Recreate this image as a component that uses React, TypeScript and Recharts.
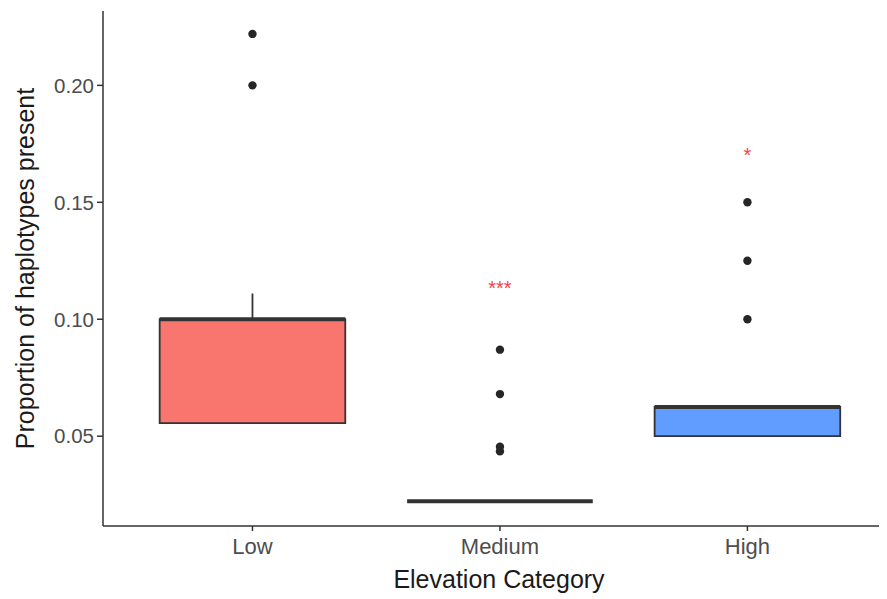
import React from 'react';
import {
  ComposedChart,
  XAxis,
  YAxis,
  Scatter,
  ReferenceArea,
  ReferenceLine,
} from 'recharts';

const categories = ['Low', 'Medium', 'High'];
const positions = [1, 2, 3];
const q1 = [0.0556, 0.0222, 0.05];
const median = [0.1, 0.0222, 0.0625];
const q3 = [0.1, 0.0222, 0.0625];
const whiskerLow = [0.0556, 0.0222, 0.05];
const whiskerHigh = [0.111, 0.0222, 0.0625];
const fills = ['#F8766D', '#00BA38', '#619CFF'];

const outliersLow = [0.222, 0.2];
const outliersMedium = [0.087, 0.068, 0.0455, 0.0435];
const outliersHigh = [0.15, 0.125, 0.1];

const starLabels = ['***', '*'];
const starPositions = [2, 3];
const starValues = [0.114, 0.171];

const yTicks = [0.05, 0.1, 0.15, 0.2];
const yDomain = [0.0116, 0.2318];
const xDomain = [0.396, 3.564];
const boxHalf = 0.375;

const outlierData = [
  ...outliersLow.map((y) => ({ x: 1, y })),
  ...outliersMedium.map((y) => ({ x: 2, y })),
  ...outliersHigh.map((y) => ({ x: 3, y })),
];
const starData = starLabels.map((label, i) => ({ x: starPositions[i], y: starValues[i], label }));

const FONT = '"Liberation Sans", Arial, Helvetica, sans-serif';

const StarShape = (props: any) => {
  const { cx, cy, payload } = props;
  const fs = 20;
  return (
    <text
      x={cx}
      y={cy + fs * 0.42}
      textAnchor="middle"
      fontSize={fs}
      fontFamily={FONT}
      fill="#f04455"
    >
      {payload.label}
    </text>
  );
};

const DotShape = (props: any) => {
  const { cx, cy } = props;
  return <circle cx={cx} cy={cy} r={4.2} fill="#262626" />;
};

export default function App() {
  return (
    <div style={{ fontFamily: FONT }}>
      <ComposedChart
        width={879}
        height={591}
        margin={{ top: 3, right: 0, bottom: 0, left: 0 }}
      >
        <XAxis
          type="number"
          dataKey="x"
          domain={xDomain}
          ticks={positions}
          allowDataOverflow
          tickFormatter={(v: number) => categories[v - 1]}
          height={73}
          stroke="#333333"
          strokeWidth={1.5}
          tickSize={5}
          tickMargin={7}
          tick={{ fill: '#4d4d4d', fontSize: 22, fontFamily: FONT }}
          tickLine={{ stroke: '#333333', strokeWidth: 1.5 }}
          label={{
            content: (p: any) => {
              const vb = p.viewBox;
              return (
                <text
                  x={vb.x + vb.width / 2 + 4}
                  y={vb.y + 62}
                  textAnchor="middle"
                  fontSize={25}
                  fontFamily={FONT}
                  fill="#1a1a1a"
                >
                  Elevation Category
                </text>
              );
            },
          }}
        />
        <YAxis
          type="number"
          dataKey="y"
          domain={yDomain}
          ticks={yTicks}
          allowDataOverflow
          width={95}
          stroke="#333333"
          strokeWidth={1.5}
          tickSize={6}
          tickMargin={3}
          tickFormatter={(v: number) => v.toFixed(2)}
          tick={{ fill: '#4d4d4d', fontSize: 20.5, fontFamily: FONT }}
          tickLine={{ stroke: '#333333', strokeWidth: 1.5 }}
          label={{
            content: (p: any) => {
              const vb = p.viewBox;
              const cx = 17;
              const cy = vb.y + vb.height / 2;
              return (
                <text
                  x={cx}
                  y={cy}
                  transform={`rotate(-90, ${cx}, ${cy})`}
                  textAnchor="middle"
                  dominantBaseline="central"
                  fontSize={25}
                  fontFamily={FONT}
                  fill="#1a1a1a"
                >
                  Proportion of haplotypes present
                </text>
              );
            },
          }}
        />
        {positions.map((pos, i) => (
          <ReferenceLine
            key={`wh-${i}`}
            segment={[
              { x: pos, y: q3[i] },
              { x: pos, y: whiskerHigh[i] },
            ]}
            stroke="#333333"
            strokeWidth={1.8}
          />
        ))}
        {positions.map((pos, i) => (
          <ReferenceLine
            key={`wl-${i}`}
            segment={[
              { x: pos, y: whiskerLow[i] },
              { x: pos, y: q1[i] },
            ]}
            stroke="#333333"
            strokeWidth={1.8}
          />
        ))}
        {positions.map((pos, i) => (
          <ReferenceArea
            key={`box-${i}`}
            x1={pos - boxHalf}
            x2={pos + boxHalf}
            y1={q1[i]}
            y2={q3[i]}
            fill={fills[i]}
            fillOpacity={1}
            stroke="#333333"
            strokeWidth={1.8}
          />
        ))}
        {positions.map((pos, i) => (
          <ReferenceLine
            key={`med-${i}`}
            segment={[
              { x: pos - boxHalf, y: median[i] },
              { x: pos + boxHalf, y: median[i] },
            ]}
            stroke="#333333"
            strokeWidth={4}
          />
        ))}
        <Scatter
          data={outlierData}
          dataKey="y"
          shape={DotShape}
          isAnimationActive={false}
        />
        <Scatter
          data={starData}
          dataKey="y"
          shape={StarShape}
          isAnimationActive={false}
        />
      </ComposedChart>
    </div>
  );
}
